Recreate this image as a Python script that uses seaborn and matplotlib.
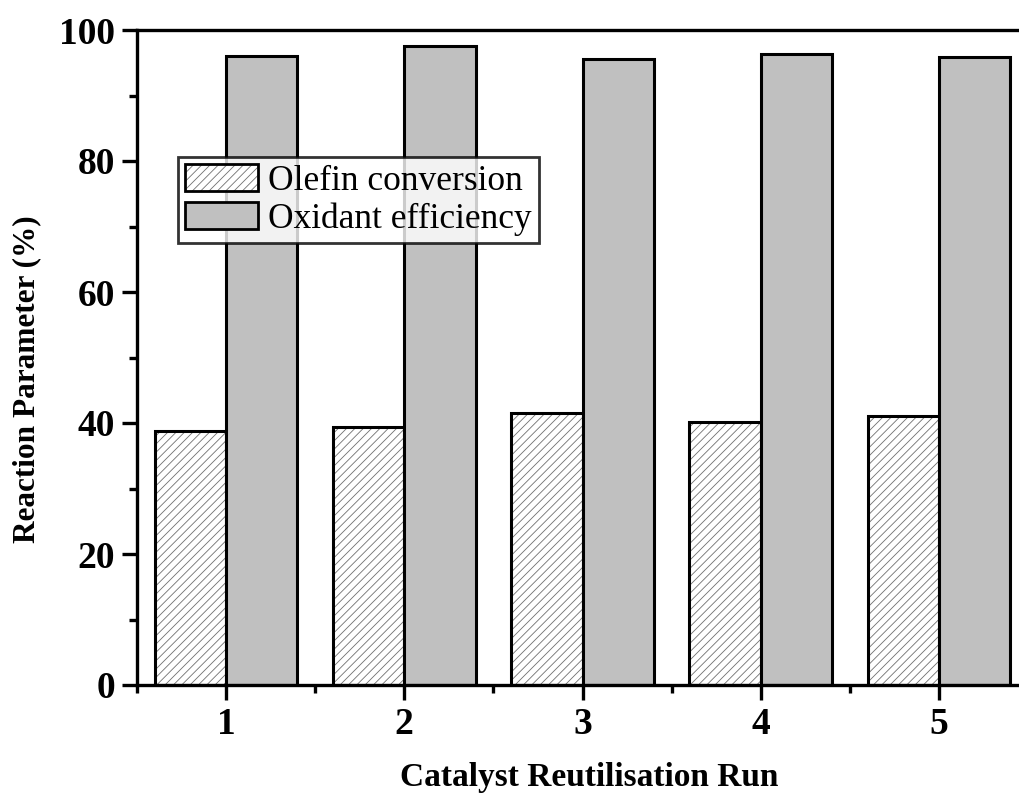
import matplotlib
matplotlib.use("Agg")
import matplotlib.pyplot as plt
import matplotlib.colors as mcolors
from matplotlib.ticker import MultipleLocator, FixedLocator
import seaborn as sns
import pandas as pd

runs = ["1", "2", "3", "4", "5"]
olefin_conversion = [38.8, 39.4, 41.5, 40.2, 41.0]
oxidant_efficiency = [96.1, 97.6, 95.5, 96.4, 95.9]
series_names = ["Olefin conversion", "Oxidant efficiency"]

df = pd.DataFrame({
    "run": runs * 2,
    "value": olefin_conversion + oxidant_efficiency,
    "series": [series_names[0]] * len(runs) + [series_names[1]] * len(runs),
})

sns.set_style("ticks")
plt.rcParams["font.family"] = ["Liberation Serif", "DejaVu Serif"]
plt.rcParams.update({
    "text.color": "black",
    "axes.labelcolor": "black",
    "xtick.color": "black",
    "ytick.color": "black",
    "hatch.linewidth": 0.6,
})

fig = plt.figure(figsize=(10.19, 8), dpi=100)
ax = fig.add_axes([137 / 1019, 1 - 685 / 800, (1028 - 137) / 1019, (685 - 30) / 800])

sns.barplot(
    data=df, x="run", y="value", hue="series", order=runs,
    hue_order=series_names,
    palette={series_names[0]: "white", series_names[1]: "#c0c0c0"},
    edgecolor="black", linewidth=2.2, saturation=1, ax=ax, legend=True,
)

# hatch the conversion bars with thin grey lines
hatch_grey = mcolors.to_rgba("#707070")
for p in ax.containers[0]:
    p.set_hatch("////")
    p._hatch_color = hatch_grey

ax.set_xlim(-0.5, len(runs) - 0.5)
ax.set_ylim(0, 100)
ax.yaxis.set_major_locator(MultipleLocator(20))
ax.yaxis.set_minor_locator(MultipleLocator(10))
ax.xaxis.set_minor_locator(FixedLocator([i - 0.5 for i in range(len(runs) + 1)]))

for side in ["top", "left", "bottom", "right"]:
    ax.spines[side].set_visible(True)
    ax.spines[side].set_linewidth(2.4)
    ax.spines[side].set_color("black")

ax.tick_params(axis="both", which="major", direction="out", length=11, width=2.4,
               labelsize=27, pad=5, top=False, right=False, colors="black")
ax.tick_params(axis="both", which="minor", direction="out", length=6, width=2.4,
               top=False, right=False, colors="black")
for lab in ax.get_xticklabels() + ax.get_yticklabels():
    lab.set_fontweight("bold")

ax.set_xlabel("Catalyst Reutilisation Run", fontsize=24, fontweight="bold")
ax.set_ylabel("Reaction Parameter (%)", fontsize=22.5, fontweight="bold")
ax.xaxis.set_label_coords(0.507, -0.118)
ax.yaxis.set_label_coords(-0.107, 0.467)

leg = ax.legend(
    loc="upper left", bbox_to_anchor=(0.046, 0.806), borderaxespad=0,
    fontsize=25.5, frameon=True, fancybox=False, edgecolor="black",
    handlelength=2.05, handleheight=0.8, handletextpad=0.3, labelspacing=0.12,
    borderpad=0.2, title=None,
)
leg.get_frame().set_linewidth(2.0)
for h in leg.legend_handles:
    h.set_linewidth(2.0)
leg.legend_handles[0].set_hatch("////")
leg.legend_handles[0]._hatch_color = hatch_grey
for t in leg.get_texts():
    t.set_color("black")

fig.savefig("out.png", dpi=100, facecolor="white")
